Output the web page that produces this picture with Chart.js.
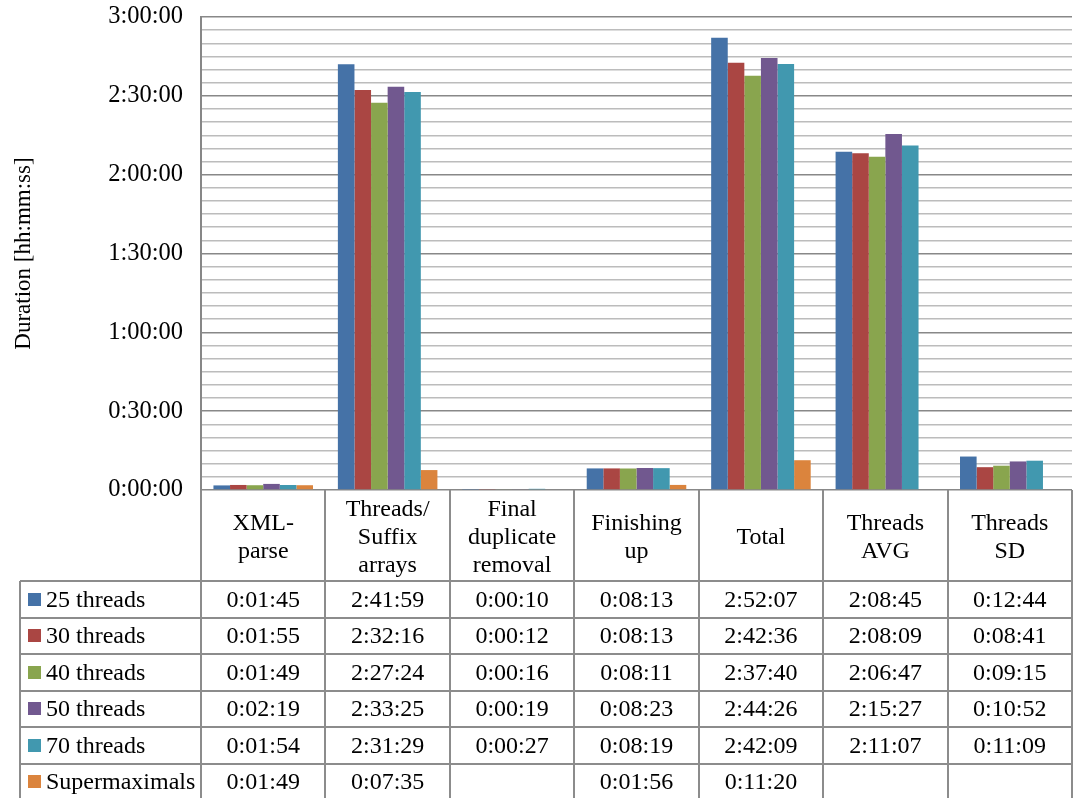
<!DOCTYPE html>
<html>
<head>
<meta charset="utf-8">
<script src="https://cdn.jsdelivr.net/npm/chart.js@4"></script>
<style>
  html, body { margin: 0; padding: 0; background: #ffffff; }
  canvas { display: block; }
</style>
</head>
<body>
<canvas id="chart" width="1073" height="798"></canvas>
<script>
// Processing phases (multi-line header labels of the data table)
const categories = [
  ["XML-", "parse"],
  ["Threads/", "Suffix", "arrays"],
  ["Final", "duplicate", "removal"],
  ["Finishing", "up"],
  ["Total"],
  ["Threads", "AVG"],
  ["Threads", "SD"]
];

const seriesNames = ["25 threads", "30 threads", "40 threads", "50 threads", "70 threads", "Supermaximals"];
const seriesColors = ["#4572A7", "#AA4643", "#89A54E", "#71588F", "#4198AF", "#DB843D"];

// Durations per phase, hh:mm:ss (null = not measured)
const threads25     = ["0:01:45", "2:41:59", "0:00:10", "0:08:13", "2:52:07", "2:08:45", "0:12:44"];
const threads30     = ["0:01:55", "2:32:16", "0:00:12", "0:08:13", "2:42:36", "2:08:09", "0:08:41"];
const threads40     = ["0:01:49", "2:27:24", "0:00:16", "0:08:11", "2:37:40", "2:06:47", "0:09:15"];
const threads50     = ["0:02:19", "2:33:25", "0:00:19", "0:08:23", "2:44:26", "2:15:27", "0:10:52"];
const threads70     = ["0:01:54", "2:31:29", "0:00:27", "0:08:19", "2:42:09", "2:11:07", "0:11:09"];
const supermaximals = ["0:01:49", "0:07:35", null,      "0:01:56", "0:11:20", null,      null];

const seriesValues = [threads25, threads30, threads40, threads50, threads70, supermaximals];

// Axis range and tick spacing in seconds
const yMax = 3 * 3600;
const minorStep = 5 * 60;
const majorStep = 30 * 60;

const FONT = '"Liberation Serif", "Times New Roman", serif';
const TABLE_FONT_SIZE = 24;

function toSeconds(s) {
  if (s == null) return null;
  const [h, m, sec] = s.split(":").map(Number);
  return h * 3600 + m * 60 + sec;
}

function toClock(v) {
  const h = Math.floor(v / 3600);
  const m = Math.floor((v % 3600) / 60);
  const s = Math.round(v % 60);
  return h + ":" + String(m).padStart(2, "0") + ":" + String(s).padStart(2, "0");
}

// Draws the data table (category headers, legend keys and values) under the plot
const dataTablePlugin = {
  id: "dataTable",
  afterDraw(chart) {
    const { ctx, chartArea } = chart;
    const xScale = chart.scales.x;
    const left = chartArea.left, right = chartArea.right, top = chartArea.bottom;
    const n = categories.length;
    const colW = (right - left) / n;
    const headerH = 91;
    const rowH = 36.5;
    const legendLeft = 20;
    const rows = chart.data.datasets.length;
    const tableBottom = top + headerH + rows * rowH;

    ctx.save();
    ctx.strokeStyle = "#8c8c8c";
    ctx.lineWidth = 2;
    ctx.beginPath();
    for (let i = 0; i <= n; i++) {
      const x = Math.round(left + i * colW);
      ctx.moveTo(x, top);
      ctx.lineTo(x, tableBottom);
    }
    ctx.moveTo(legendLeft, top + headerH);
    ctx.lineTo(legendLeft, tableBottom);
    for (let r = 0; r <= rows; r++) {
      const y = Math.round(top + headerH + r * rowH);
      ctx.moveTo(legendLeft, y);
      ctx.lineTo(right, y);
    }
    ctx.stroke();

    ctx.fillStyle = "#000000";
    ctx.font = TABLE_FONT_SIZE + "px " + FONT;
    ctx.textAlign = "center";
    ctx.textBaseline = "middle";

    // header cells
    const lh = 28;
    chart.data.labels.forEach((lines, i) => {
      const cx = xScale.getPixelForValue(i);
      const y0 = top + headerH / 2 - (lines.length - 1) * lh / 2;
      lines.forEach((t, k) => ctx.fillText(t, cx, y0 + k * lh + 2));
    });

    // value rows
    chart.data.datasets.forEach((ds, r) => {
      const cy = top + headerH + r * rowH + rowH / 2;
      ctx.fillStyle = ds.backgroundColor;
      ctx.fillRect(legendLeft + 8, Math.round(cy - 6.5), 13, 13);
      ctx.fillStyle = "#000000";
      ctx.textAlign = "left";
      ctx.fillText(ds.label, legendLeft + 26, cy + 1);
      ctx.textAlign = "center";
      ds.data.forEach((v, i) => {
        if (v == null) return;
        ctx.fillText(toClock(v), xScale.getPixelForValue(i), cy + 1);
      });
    });
    ctx.restore();
  }
};

new Chart(document.getElementById("chart"), {
  type: "bar",
  data: {
    labels: categories,
    datasets: seriesNames.map((name, i) => ({
      label: name,
      data: seriesValues[i].map(toSeconds),
      backgroundColor: seriesColors[i],
      borderWidth: 0
    }))
  },
  options: {
    responsive: false,
    animation: false,
    devicePixelRatio: 1,
    layout: { padding: { top: 17, right: 1, bottom: 308, left: 0 } },
    datasets: { bar: { categoryPercentage: 0.8, barPercentage: 1.0 } },
    plugins: {
      legend: { display: false },
      tooltip: { enabled: false }
    },
    scales: {
      x: { display: false },
      y: {
        min: 0,
        max: yMax,
        afterFit(scale) {
          // fixed axis column; the outer labels may overhang the plot edges
          scale.width = 201;
          scale.paddingTop = 0;
          scale.paddingBottom = 0;
        },
        border: { display: true, color: "#878787", width: 2 },
        grid: {
          drawTicks: false,
          lineWidth: 1.5,
          color: (c) => (c.tick && c.tick.value % majorStep === 0) ? "#888888" : "#bcbcbc"
        },
        ticks: {
          stepSize: minorStep,
          autoSkip: false,
          maxTicksLimit: 100,
          padding: 18,
          color: "#000000",
          font: { family: FONT, size: 24.5 },
          callback: (v) => (v % majorStep === 0 ? toClock(v) : "")
        },
        title: {
          display: true,
          text: "Duration [hh:mm:ss]",
          color: "#000000",
          font: { family: FONT, size: 23 },
          padding: { top: 10, bottom: 0 }
        }
      }
    }
  },
  plugins: [dataTablePlugin]
});
</script>
</body>
</html>
